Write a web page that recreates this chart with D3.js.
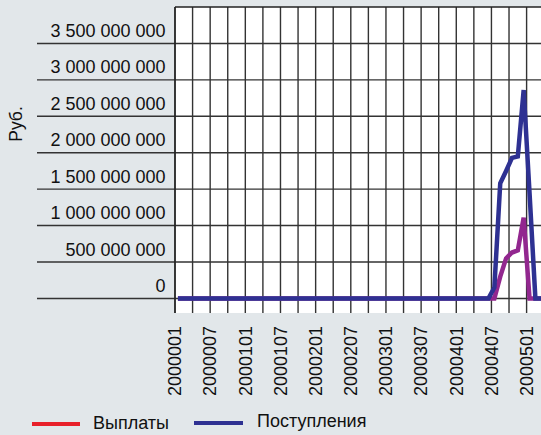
<!DOCTYPE html>
<html>
<head>
<meta charset="utf-8">
<script src="https://cdn.jsdelivr.net/npm/d3@7"></script>
<style>
  body { margin: 0; background: #e2e7ea; }
  svg { display: block; font-family: "Liberation Sans", Arial, sans-serif; }
</style>
</head>
<body>
<div class="chart"></div>
<script>
// months coded as 2000 + year digit + month
const CATEGORIES = [
  '2000001','2000002','2000003','2000004','2000005','2000006','2000007','2000008','2000009','2000010','2000011','2000012',
  '2000101','2000102','2000103','2000104','2000105','2000106','2000107','2000108','2000109','2000110','2000111','2000112',
  '2000201','2000202','2000203','2000204','2000205','2000206','2000207','2000208','2000209','2000210','2000211','2000212',
  '2000301','2000302','2000303','2000304','2000305','2000306','2000307','2000308','2000309','2000310','2000311','2000312',
  '2000401','2000402','2000403','2000404','2000405','2000406','2000407','2000408','2000409','2000410','2000411','2000412',
  '2000501','2000502','2000503'
]

// Выплаты
const PAYMENTS = [
  0,0,0,0,0,0,0,0,0,0,0,0,
  0,0,0,0,0,0,0,0,0,0,0,0,
  0,0,0,0,0,0,0,0,0,0,0,0,
  0,0,0,0,0,0,0,0,0,0,0,0,
  0,0,0,0,0,0,0,3.0e8,5.5e8,6.3e8,6.6e8,1.11e9,
  0,0,0
]

// Поступления
const RECEIPTS = [
  0,0,0,0,0,0,0,0,0,0,0,0,
  0,0,0,0,0,0,0,0,0,0,0,0,
  0,0,0,0,0,0,0,0,0,0,0,0,
  0,0,0,0,0,0,0,0,0,0,0,0,
  0,0,0,0,0,0,1.5e8,1.58e9,1.75e9,1.93e9,1.95e9,2.86e9,
  1.45e9,0,0
]

const Y_TICKS = [0, 5e8, 1e9, 1.5e9, 2e9, 2.5e9, 3e9, 3.5e9]

const SERIES = [
  { name: 'Выплаты', values: PAYMENTS, color: '#92278f', legendColor: '#e8202a' },
  { name: 'Поступления', values: RECEIPTS, color: '#2e3192', legendColor: '#2e3192' },
]

var svgWidth = 541
var svgHeight = 435

var svg = d3.select('.chart')
  .append('svg')
  .attr('width', svgWidth)
  .attr('height', svgHeight)

var plotLeft = 175
var plotTop = 7
var plotBottom = 313
var step = 5.86

var xScale = d3.scaleBand()
  .domain(CATEGORIES)
  .range([plotLeft, plotLeft + CATEGORIES.length * step])
  .padding(0)

var yScale = d3.scaleLinear()
  .domain([-2e8, 4e9])
  .range([plotBottom, plotTop])

var fmt = d3.formatLocale({ decimal: ',', thousands: '\u00a0', grouping: [3], currency: ['', ''] }).format(',')

// plot area
svg.append('rect')
  .attr('x', plotLeft)
  .attr('y', plotTop)
  .attr('width', svgWidth - plotLeft + 10)
  .attr('height', plotBottom - plotTop)
  .attr('fill', 'white')

// vertical grid lines, every 3 months
svg.append('g')
  .selectAll('line')
  .data(CATEGORIES.filter((d, i) => i % 3 == 0))
  .enter()
  .append('line')
  .attr('x1', d => xScale(d))
  .attr('x2', d => xScale(d))
  .attr('y1', plotTop)
  .attr('y2', plotBottom)
  .attr('stroke', '#333')
  .attr('stroke-width', 1.4)

// top border
svg.append('line')
  .attr('x1', plotLeft).attr('x2', svgWidth)
  .attr('y1', plotTop).attr('y2', plotTop)
  .attr('stroke', '#222')
  .attr('stroke-width', 1.4)

// horizontal grid lines reaching out under the labels
svg.append('g')
  .selectAll('line')
  .data(Y_TICKS)
  .enter()
  .append('line')
  .attr('x1', 37)
  .attr('x2', svgWidth)
  .attr('y1', d => yScale(d))
  .attr('y2', d => yScale(d))
  .attr('stroke', '#333')
  .attr('stroke-width', 1.4)

// y labels sit above their line
svg.append('g')
  .selectAll('text')
  .data(Y_TICKS)
  .enter()
  .append('text')
  .attr('x', 165.5)
  .attr('y', d => yScale(d) - 6.5)
  .attr('text-anchor', 'end')
  .attr('font-size', '18px')
  .attr('fill', '#111')
  .text(d => fmt(d))

svg.append('text')
  .attr('transform', 'translate(22, 124) rotate(-90)')
  .attr('text-anchor', 'middle')
  .attr('font-size', '17.5px')
  .attr('fill', '#111')
  .text('Руб.')

// x labels, every 6 months
svg.append('g')
  .selectAll('text')
  .data(CATEGORIES.filter((d, i) => i % 6 == 0))
  .enter()
  .append('text')
  .attr('transform', d => `translate(${xScale(d) + xScale.bandwidth() / 2 - 3}, 326) rotate(-90)`)
  .attr('text-anchor', 'end')
  .attr('dy', '0.35em')
  .attr('font-size', '18px')
  .attr('fill', '#111')
  .text(d => d)

// left border
svg.append('line')
  .attr('x1', plotLeft).attr('x2', plotLeft)
  .attr('y1', plotTop).attr('y2', plotBottom)
  .attr('stroke', '#222')
  .attr('stroke-width', 1.4)

// lines
var line = d3.line()
  .x((d, i) => xScale(CATEGORIES[i]) + xScale.bandwidth() / 2)
  .y(d => yScale(d))

SERIES.forEach(s => {
  svg.append('path')
    .datum(s.values)
    .attr('d', line)
    .attr('fill', 'none')
    .attr('stroke', s.color)
    .attr('stroke-width', 4.5)
    .attr('stroke-linejoin', 'miter')
})

// legend
var legend = [
  { x1: 32, x2: 80, y: 424, tx: 93, ty: 429 },
  { x1: 194, x2: 243, y: 423, tx: 257, ty: 427 },
]
SERIES.forEach((s, i) => {
  var l = legend[i]
  svg.append('line')
    .attr('x1', l.x1).attr('x2', l.x2)
    .attr('y1', l.y).attr('y2', l.y)
    .attr('stroke', s.legendColor)
    .attr('stroke-width', 4)
  svg.append('text')
    .attr('x', l.tx)
    .attr('y', l.ty)
    .attr('font-size', '18px')
    .attr('fill', '#111')
    .text(s.name)
})
</script>
</body>
</html>
